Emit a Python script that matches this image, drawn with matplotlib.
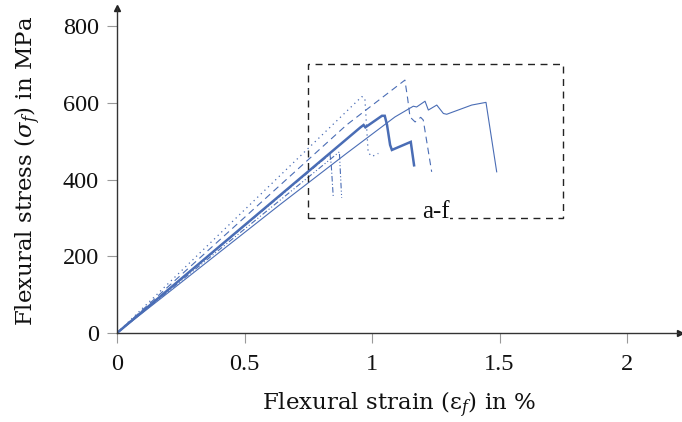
import matplotlib
matplotlib.use("Agg")
import matplotlib.pyplot as plt
from matplotlib.patches import Rectangle

plt.rcParams['font.family'] = ['Liberation Serif', 'DejaVu Serif']
plt.rcParams['mathtext.fontset'] = 'dejavuserif'

# Stress-strain curves of the six specimens (strain in %, stress in MPa)
strain_a = [0, 0.955, 0.967, 0.974, 1.039, 1.050, 1.059, 1.071, 1.078, 1.152, 1.165]
stress_a = [0, 536, 542, 536, 566, 566, 542, 490, 477, 498, 437]

strain_b = [0, 0.64, 0.90, 1.09, 1.162, 1.175, 1.208, 1.221, 1.254, 1.280, 1.293, 1.391, 1.447, 1.489]
stress_b = [0, 335, 468, 563, 591, 589, 604, 581, 594, 572, 570, 594, 601, 420]

strain_c = [0, 0.90, 1.129, 1.140, 1.149, 1.169, 1.191, 1.201, 1.234]
stress_c = [0, 542, 659, 610, 563, 550, 562, 555, 420]

strain_d = [0, 0.960, 0.972, 0.985, 1.000, 1.025]
stress_d = [0, 616, 612, 470, 460, 468]

strain_e = [0, 0.835, 0.840, 0.848]
stress_e = [0, 466, 440, 355]

strain_f = [0, 0.872, 0.881]
stress_f = [0, 472, 352]

xticks = [0, 0.5, 1, 1.5, 2]
xtick_labels = ['0', '0.5', '1', '1.5', '2']
yticks = [0, 200, 400, 600, 800]
ytick_labels = ['0', '200', '400', '600', '800']

blue = '#4a6db5'
label_font = ['DejaVu Serif']

fig = plt.figure(figsize=(6.82, 4.22), dpi=100)
W, H = 682, 422
ax = fig.add_axes([117 / W, (H - 333) / H, (680 - 117) / W, (333 - 8) / H])

ax.plot(strain_a, stress_a, color=blue, lw=1.8, solid_joinstyle='miter')
ax.plot(strain_b, stress_b, color=blue, lw=0.8)
ax.plot(strain_c, stress_c, color=blue, lw=0.8, dashes=(6, 4))
ax.plot(strain_d, stress_d, color=blue, lw=0.9, dashes=(1, 3))
ax.plot(strain_e, stress_e, color=blue, lw=0.8, dashes=(5, 2, 1, 2))
ax.plot(strain_f, stress_f, color=blue, lw=0.8, dashes=(5, 2, 1, 2, 1, 2))

# Zoom window around the failure region
ax.add_patch(Rectangle((0.75, 300), 1.0, 400, fill=False, edgecolor='#222222',
                       lw=1.0, linestyle=(0, (5, 4)), zorder=3))
ax.text(1.25, 300, 'a-f', ha='center', va='baseline', fontsize=18, color='#111111',
        zorder=4, bbox=dict(facecolor='white', edgecolor='none', pad=0.5))

ax.set_xlim(0, (680 - 117) / 255)
ax.set_ylim(0, 325 / 0.38375)

for side in ('top', 'right'):
    ax.spines[side].set_visible(False)
for side in ('left', 'bottom'):
    ax.spines[side].set_color('#333333')
    ax.spines[side].set_linewidth(1.0)

ax.plot(1, 0, marker='>', color='#222222', ms=5, transform=ax.transAxes, clip_on=False)
ax.plot(0, 1, marker='^', color='#222222', ms=5, transform=ax.transAxes, clip_on=False)

ax.set_xticks(xticks)
ax.set_xticklabels(xtick_labels)
ax.set_yticks(yticks)
ax.set_yticklabels(ytick_labels)
ax.tick_params(axis='both', direction='out', length=7, width=0.8, color='#999999',
               labelsize=17.5, labelcolor='#111111')
ax.tick_params(axis='x', pad=8)
ax.tick_params(axis='y', pad=6)

ax.set_xlabel(r'Flexural strain ($\mathrm{\varepsilon}_f$) in %', fontsize=16.5,
              family=label_font, color='#111111', labelpad=11)
ax.set_ylabel(r'Flexural stress ($\sigma_f$) in MPa', fontsize=16.5,
              family=label_font, color='#111111', labelpad=14)

fig.savefig('out.png', dpi=100)
